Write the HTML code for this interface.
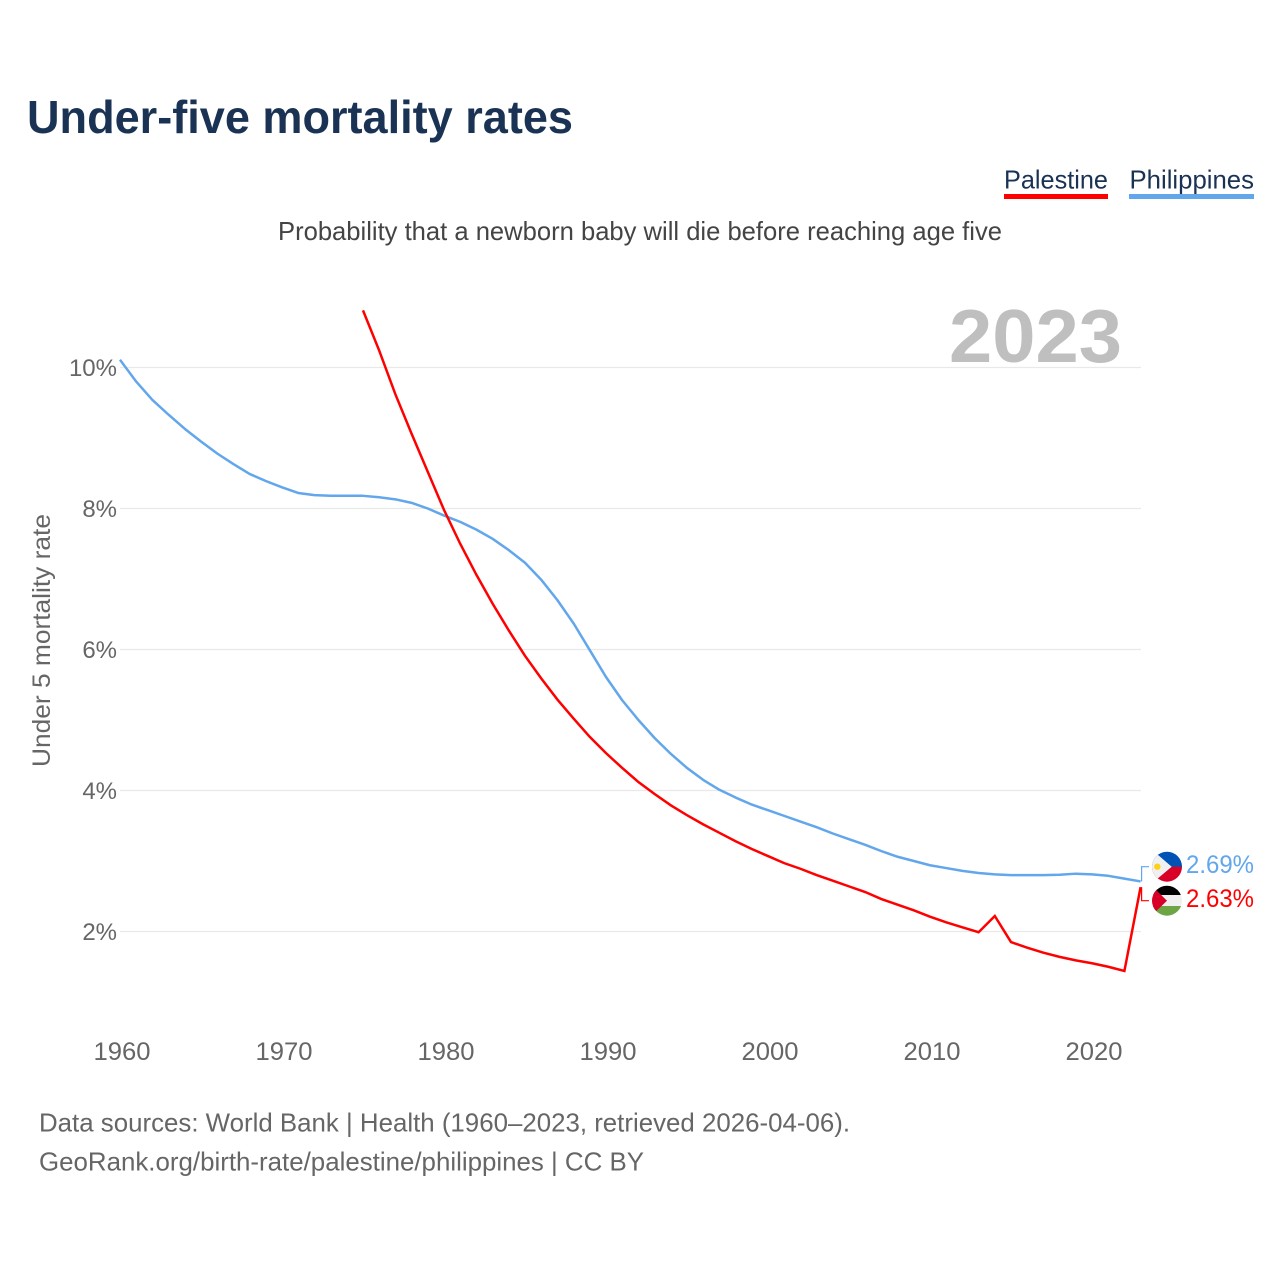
<!DOCTYPE html>
<html lang="en">
<head>
<meta charset="utf-8">
<title>Under-five mortality rates</title>
<style>
html,body{margin:0;padding:0;background:#fff;width:1280px;height:1280px;overflow:hidden}
svg{display:block}
text{font-family:"Liberation Sans",sans-serif}
</style>
</head>
<body>
<svg id="chart" xmlns="http://www.w3.org/2000/svg" width="1280" height="1280" viewBox="0 0 1280 1280">
  <defs>
    <clipPath id="clip-ph"><circle cx="1167" cy="866.7" r="15"/></clipPath>
    <clipPath id="clip-ps"><circle cx="1167" cy="900.7" r="15"/></clipPath>
  </defs>
  <rect width="1280" height="1280" fill="#fff"/>
  <text x="27" y="133" font-size="46" font-weight="700" fill="#1a3354" textLength="546" lengthAdjust="spacingAndGlyphs">Under-five mortality rates</text>
  <text x="278" y="240" font-size="26" fill="#444" textLength="724" lengthAdjust="spacingAndGlyphs">Probability that a newborn baby will die before reaching age five</text>

  <g>
    <text x="1004" y="188.5" font-size="26" fill="#1a3354" textLength="104" lengthAdjust="spacingAndGlyphs">Palestine</text>
    <rect x="1004" y="194" width="104" height="5" fill="#ff0000"/>
  </g>
  <g>
    <text x="1129.5" y="188.5" font-size="26" fill="#1a3354" textLength="124.5" lengthAdjust="spacingAndGlyphs">Philippines</text>
    <rect x="1129" y="194" width="125" height="5" fill="#62a6ec"/>
  </g>

  <text transform="translate(50,767) rotate(-90)" x="0" y="0" font-size="25" fill="#666" textLength="253" lengthAdjust="spacingAndGlyphs">Under 5 mortality rate</text>

  <g id="grid"></g>
  <g id="yticks"></g>
  <g id="xticks"></g>

  <text x="949" y="362" font-size="75" font-weight="700" fill="#bfbfbf" textLength="173" lengthAdjust="spacingAndGlyphs">2023</text>

  <g id="lines"></g>

  <g clip-path="url(#clip-ph)">
    <rect x="1150" y="850" width="34" height="17" fill="#0052b4"/>
    <rect x="1150" y="866.7" width="34" height="17" fill="#d80027"/>
    <polygon points="1171.7,866.7 1150,848 1150,885" fill="#f0f0f0"/>
    <circle cx="1157.3" cy="866.7" r="3.2" fill="#fcd116"/>
  </g>
  <g clip-path="url(#clip-ps)">
    <rect x="1150" y="884" width="34" height="11" fill="#000"/>
    <rect x="1150" y="895" width="34" height="11" fill="#f0f0f0"/>
    <rect x="1150" y="906" width="34" height="11" fill="#6da544"/>
    <polygon points="1167,900.7 1150,884 1150,917" fill="#d80027"/>
  </g>

  <g id="endlabels"></g>

  <text x="39" y="1131.5" font-size="26" fill="#666" textLength="811" lengthAdjust="spacingAndGlyphs">Data sources: World Bank | Health (1960–2023, retrieved 2026-04-06).</text>
  <text x="39" y="1170.5" font-size="26" fill="#666" textLength="605" lengthAdjust="spacingAndGlyphs">GeoRank.org/birth-rate/palestine/philippines | CC BY</text>
</svg>
<script>
const xTickYears = [1960, 1970, 1980, 1990, 2000, 2010, 2020];
const yTickValues = [2, 4, 6, 8, 10];
const philippinesStartYear = 1960;
const philippinesValues = [10.11, 9.80, 9.54, 9.33, 9.13, 8.95, 8.78, 8.63, 8.49, 8.39,
  8.30, 8.22, 8.19, 8.18, 8.18, 8.18, 8.16, 8.13, 8.08, 8.00,
  7.90, 7.81, 7.70, 7.57, 7.41, 7.23, 6.99, 6.70, 6.37, 5.99,
  5.61, 5.28, 5.00, 4.745, 4.52, 4.32, 4.15, 4.01, 3.90, 3.80,
  3.72, 3.64, 3.56, 3.48, 3.39, 3.31, 3.23, 3.14, 3.06, 3.00,
  2.94, 2.90, 2.86, 2.83, 2.81, 2.80, 2.80, 2.80, 2.805, 2.82,
  2.81, 2.79, 2.75, 2.71];
const palestineStartYear = 1975;
const palestineValues = [10.81, 10.24, 9.62, 9.06, 8.52,
  7.98, 7.50, 7.06, 6.65, 6.27, 5.91, 5.59, 5.29, 5.02, 4.76,
  4.53, 4.32, 4.12, 3.95, 3.79, 3.65, 3.52, 3.40, 3.28, 3.17,
  3.07, 2.97, 2.89, 2.80, 2.72, 2.64, 2.56, 2.46, 2.38, 2.30,
  2.21, 2.13, 2.06, 1.99, 2.22, 1.85, 1.77, 1.70, 1.64, 1.59,
  1.55, 1.50, 1.44, 2.63];
const philippinesLabel = "2.69%";
const palestineLabel = "2.63%";

const NS = "http://www.w3.org/2000/svg";
function xScale(year) { return 120 + (year - 1960) * 16.2; }
function yScale(v) { return 931.5 - (v - 2) * 70.5; }
function make(tag, parent, attrs) {
  const el = document.createElementNS(NS, tag);
  for (const k in attrs) el.setAttribute(k, attrs[k]);
  parent.appendChild(el);
  return el;
}
const grid = document.getElementById("grid");
const yticks = document.getElementById("yticks");
const xticks = document.getElementById("xticks");
const lines = document.getElementById("lines");
const endlabels = document.getElementById("endlabels");

yTickValues.forEach(function (v) {
  const g = make("line", grid, { x1: 120, x2: 1141, y1: yScale(v), y2: yScale(v), stroke: "#e9e9e9", "stroke-width": 1.2 });
  
  
  const t = make("text", yticks, { x: 117, y: yScale(v) + 8.5, "text-anchor": "end", "font-size": 24, fill: "#666" });
  
  
  t.textContent = v + "%";
});
xTickYears.forEach(function (y) {
  const t = make("text", xticks, { x: xScale(y) + 2, y: 1060, "text-anchor": "middle", "font-size": 25, fill: "#666", textLength: 57, lengthAdjust: "spacingAndGlyphs" });
  
  
  t.textContent = y;
});
function seriesPath(values, startYear) {
  return values.map(function (v, i) {
    return (i ? "L" : "M") + xScale(startYear + i).toFixed(2) + " " + yScale(v).toFixed(2);
  }).join(" ");
}
const phLine = make("path", lines, { d: seriesPath(philippinesValues, philippinesStartYear), fill: "none", stroke: "#62a6ec", "stroke-width": 2.5, "stroke-linejoin": "round" });


const psLine = make("path", lines, { d: seriesPath(palestineValues, palestineStartYear), fill: "none", stroke: "#ff0000", "stroke-width": 2.5, "stroke-linejoin": "miter" });



const phEndX = xScale(philippinesStartYear + philippinesValues.length - 1);
const phEndY = yScale(philippinesValues[philippinesValues.length - 1]);
const psEndX = xScale(palestineStartYear + palestineValues.length - 1);
const psEndY = yScale(palestineValues[palestineValues.length - 1]);
const phConn = make("path", endlabels, { d: "M" + (phEndX + 1) + " " + phEndY + " V866.7 H1149", fill: "none", stroke: "#62a6ec", "stroke-width": 1.2 });


const psConn = make("path", endlabels, { d: "M" + (psEndX + 1) + " " + psEndY + " V900.7 H1149", fill: "none", stroke: "#ff0000", "stroke-width": 1.2 });


const phText = make("text", endlabels, { x: 1186, y: 873, "font-size": 25, fill: "#62a6ec", textLength: 68, lengthAdjust: "spacingAndGlyphs" });


phText.textContent = philippinesLabel;
const psText = make("text", endlabels, { x: 1186, y: 907, "font-size": 25, fill: "#ff0000", textLength: 68, lengthAdjust: "spacingAndGlyphs" });


psText.textContent = palestineLabel;
</script>
</body>
</html>
